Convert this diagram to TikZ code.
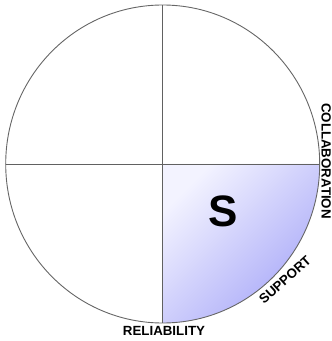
\documentclass[tikz,border=0pt]{standalone}
\usepackage{fontspec}
\setmainfont{Liberation Sans}
\begin{document}
\begin{tikzpicture}[x=1pt,y=1pt,
  rim/.style={draw=black!60, line width=0.9pt},
  axisline/.style={draw=black!62, line width=0.9pt},
  lbl/.style={font=\bfseries\fontsize{13.3}{13.3}\selectfont, inner sep=0pt}]
\definecolor{lavlight}{RGB}{243,243,255}
\definecolor{lavdark}{RGB}{168,168,248}
\useasboundingbox (0,0) rectangle (332,341);
\coordinate (C) at (162.7,177);
% shaded quadrant
\shade[top color=lavlight, bottom color=lavdark, shading angle=45]
  (C) -- (319.7,177) arc[start angle=0, end angle=-90, x radius=157, y radius=159] -- cycle;
% axes
\draw[axisline] (5.7,177) -- (319.7,177);
\draw[axisline] (162.7,18) -- (162.7,336);
% circle
\draw[rim] (C) ellipse[x radius=157, y radius=159];
% labels
\node[inner sep=0pt, font=\bfseries\fontsize{44}{44}\selectfont] (s) at (223,130) {S};
\node[lbl] (rel) at (164,10.5) {RELIABILITY};
\node[lbl, rotate=-90] (col) at (326.2,180) {COLLABORATION};
\node[lbl, rotate=42] (sup) at (285,61) {SUPPORT};
\end{tikzpicture}
\end{document}
